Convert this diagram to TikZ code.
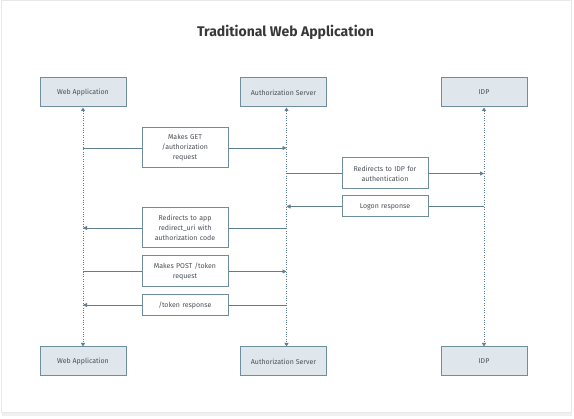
\documentclass[tikz,border=0pt]{standalone}
\usepackage{fontspec}
\setmainfont{Fira Sans}
\usetikzlibrary{arrows.meta}
\definecolor{boxfill}{HTML}{DFE6EC}
\definecolor{boxline}{HTML}{6E8E9E}
\definecolor{msgline}{HTML}{5E7F90}
\definecolor{txt}{HTML}{4A4F55}
\definecolor{titletxt}{HTML}{383838}
\tikzset{
  actor/.style={draw=boxline, fill=boxfill, line width=1pt, minimum width=86pt, minimum height=29pt, inner sep=0pt, font=\fontsize{7}{8.5}\selectfont, text=txt},
  msgbox/.style={draw=boxline, fill=white, line width=1pt, minimum width=86pt, inner sep=0pt, align=center, text width=80pt, font=\fontsize{7}{10}\selectfont, text=txt},
  msg/.style={draw=msgline, line width=0.9pt},
  tip/.style={-{Triangle[length=4pt,width=4pt]}},
  life/.style={draw=msgline, line width=1pt, dash pattern=on 1pt off 1.4pt, {Triangle[length=3.5pt,width=4pt]}-{Triangle[length=3.5pt,width=4pt]}}
}
\begin{document}
\begin{tikzpicture}[x=1pt,y=-1pt]
\useasboundingbox (0,0) rectangle (574,419);
\fill[gray!12] (2,412) rectangle (572,416.5);
\draw[gray!18, fill=white, line width=0.6pt] (1.5,0) rectangle (571,412.5);
\node[font=\fontsize{14}{16}\selectfont\bfseries, text=titletxt] (title) at (285.5,32) {Traditional Web Application};

\node[actor] (wt) at (83,92.5) {Web Application};
\node[actor] (at) at (283.5,92.5) {Authorization Server};
\node[actor] (it) at (484,92.5) {IDP};
\node[actor] (wb) at (83,361.5) {Web Application};
\node[actor] (ab) at (283.5,361.5) {Authorization Server};
\node[actor] (ib) at (484,361.5) {IDP};

\coordinate (ltw) at (83,107.5);
\coordinate (lbw) at (83,346.5);
\coordinate (lta) at (286.5,107.5);
\coordinate (lba) at (286.5,346.5);
\coordinate (lti) at (484,107.5);
\coordinate (lbi) at (484,346.5);
\draw[life] (ltw) -- (lbw);
\draw[life] (lta) -- (lba);
\draw[life] (lti) -- (lbi);

\node[msgbox, minimum height=40pt] (m1) at (185,148) {Makes GET\\/authorization\\request};
\node[msgbox, minimum height=31pt] (m2) at (385,173.5) {Redirects to IDP for\\authentication};
\node[msgbox, minimum height=21pt] (m3) at (385,206.5) {Logon response};
\node[msgbox, minimum height=40pt] (m4) at (185,228) {Redirects to app\\redirect\_uri with\\authorization code};
\node[msgbox, minimum height=31pt] (m5) at (185,271.5) {Makes POST /token\\request};
\node[msgbox, minimum height=21pt] (m6) at (185,305) {/token response};

\coordinate (w1) at (83,148);   \coordinate (a1) at (286.5,148);
\coordinate (a2) at (286.5,173.5); \coordinate (i2) at (484,173.5);
\coordinate (i3) at (484,206.5); \coordinate (a3) at (286.5,206.5);
\coordinate (a4) at (286.5,228); \coordinate (w4) at (83,228);
\coordinate (w5) at (83,271.5); \coordinate (a5) at (286.5,271.5);
\coordinate (a6) at (286.5,305); \coordinate (w6) at (83,305);

\draw[msg] (w1) -- (m1.west); \draw[msg,tip] (m1.east) -- (a1);
\draw[msg] (a2) -- (m2.west); \draw[msg,tip] (m2.east) -- (i2);
\draw[msg] (i3) -- (m3.east); \draw[msg,tip] (m3.west) -- (a3);
\draw[msg] (a4) -- (m4.east); \draw[msg,tip] (m4.west) -- (w4);
\draw[msg] (w5) -- (m5.west); \draw[msg,tip] (m5.east) -- (a5);
\draw[msg] (a6) -- (m6.east); \draw[msg,tip] (m6.west) -- (w6);
\end{tikzpicture}
\end{document}
